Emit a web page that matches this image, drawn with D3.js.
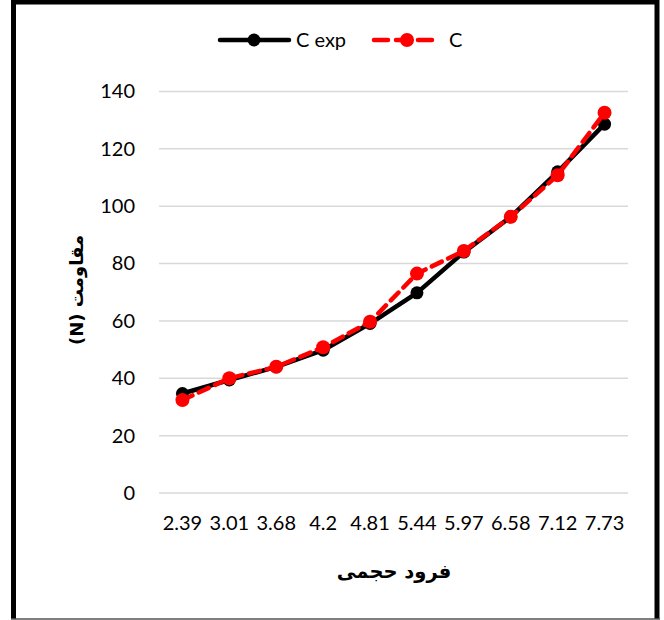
<!DOCTYPE html>
<html><head><meta charset="utf-8">
<script src="https://cdn.jsdelivr.net/npm/d3@7"></script>
<style>body{margin:0;background:#fff}svg{display:block}</style>
</head><body>
<svg id="c" width="664" height="620"></svg>
<script>
const categories = ["2.39","3.01","3.68","4.2","4.81","5.44","5.97","6.58","7.12","7.73"];
const cExp = [34.7, 39.4, 44, 49.8, 59.1, 69.8, 84, 96.3, 112, 128.6];
const cCalc = [32.4, 40, 44, 50.8, 59.7, 76.5, 84.4, 96.3, 110.8, 132.6];
const yTicks = [0,20,40,60,80,100,120,140];
const seriesNames = ["C exp","C"];
const xTitle = "فرود حجمی";
const yTitle = "مقاومت (N)";

const svg = d3.select("#c");
const font = "Lato, 'DejaVu Sans', sans-serif";
const fs = 20;
// frame
svg.append("rect").attr("x",0).attr("y",0).attr("width",664).attr("height",620).attr("fill","#fff");
svg.append("path").attr("d","M13.5,619 L13.5,2 L657,2 L657,619").attr("fill","none").attr("stroke","#000").attr("stroke-width",5);
svg.append("line").attr("x1",11).attr("x2",660).attr("y1",619).attr("y2",619).attr("stroke","#555").attr("stroke-width",1.5);

const x = d3.scaleBand().domain(categories).range([159,628]);
const y = d3.scaleLinear().domain([0,140]).range([493,91.5]);

const g = svg.append("g");
// gridlines
g.selectAll(".grid").data(yTicks).join("line")
  .attr("x1",159).attr("x2",628).attr("y1",d=>y(d)).attr("y2",d=>y(d))
  .attr("stroke","#d9d9d9").attr("stroke-width",1.5);

// y axis
const yAxis = svg.append("g").attr("transform","translate(159,0)")
  .call(d3.axisLeft(y).tickValues(yTicks).tickSize(0).tickPadding(24));
yAxis.select(".domain").remove();
yAxis.selectAll("text").attr("font-family",font).attr("font-size",fs).attr("fill","#000");

// x axis
const xAxis = svg.append("g").attr("transform","translate(0,505)")
  .call(d3.axisBottom(x).tickSize(0).tickPadding(11));
xAxis.select(".domain").remove();
xAxis.selectAll("text").attr("font-family",font).attr("font-size",fs).attr("fill","#000");

// titles
svg.append("text").attr("x",394).attr("y",578).attr("text-anchor","middle")
  .attr("font-family","'DejaVu Sans', sans-serif").attr("font-weight","bold").attr("font-size",19.5)
  .attr("direction","rtl").text(xTitle);
svg.append("text").attr("transform","translate(83,290) rotate(-90)").attr("text-anchor","middle")
  .attr("font-family","'DejaVu Sans', sans-serif").attr("font-weight","bold").attr("font-size",18)
  .attr("direction","rtl").text(yTitle);

const cx = d => x(d) + x.bandwidth()/2;
const line = d3.line().x((d,i)=>cx(categories[i])).y(d=>y(d));

// C exp
svg.append("path").datum(cExp).attr("d",line).attr("fill","none").attr("stroke","#000").attr("stroke-width",4.5).attr("stroke-linejoin","round");
svg.selectAll(".pe").data(cExp).join("circle").attr("cx",(d,i)=>cx(categories[i])).attr("cy",d=>y(d)).attr("r",6.5).attr("fill","#000");
// C
svg.append("path").datum(cCalc).attr("d",line).attr("fill","none").attr("stroke","#ff0000").attr("stroke-width",4.5).attr("stroke-dasharray","11,7").attr("stroke-linecap","round");
svg.selectAll(".pc").data(cCalc).join("circle").attr("cx",(d,i)=>cx(categories[i])).attr("cy",d=>y(d)).attr("r",7).attr("fill","#ff0000");

// legend
const lg = svg.append("g");
lg.append("line").attr("x1",220).attr("x2",289).attr("y1",40).attr("y2",40).attr("stroke","#000").attr("stroke-width",4.5).attr("stroke-linecap","round");
lg.append("circle").attr("cx",254).attr("cy",40).attr("r",6.5).attr("fill","#000");
lg.append("text").attr("x",296).attr("y",47).attr("font-family",font).attr("font-size",fs).text(seriesNames[0]);
lg.append("line").attr("x1",374).attr("x2",437).attr("y1",40).attr("y2",40).attr("stroke","#ff0000").attr("stroke-width",4.5).attr("stroke-dasharray","14,8").attr("stroke-linecap","round");
lg.append("circle").attr("cx",407).attr("cy",40).attr("r",7).attr("fill","#ff0000");
lg.append("text").attr("x",449).attr("y",47).attr("font-family",font).attr("font-size",fs).text(seriesNames[1]);
</script>
</body></html>
